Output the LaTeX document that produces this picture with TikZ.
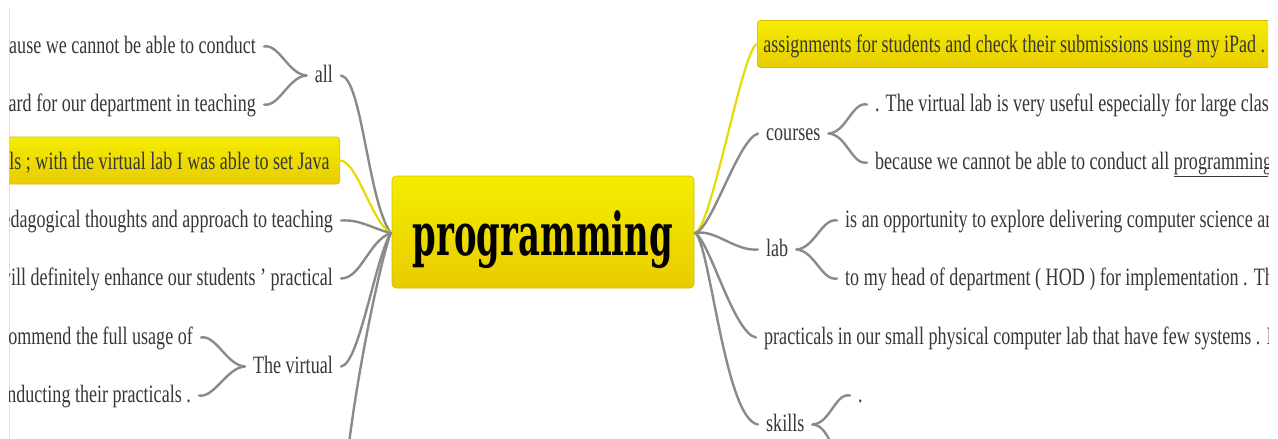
\documentclass[tikz,border=0pt]{standalone}
\usepackage{fontspec}
\usepackage{graphicx}
\setmainfont{Liberation Serif}
\newfontfamily\condfont[FakeStretch=0.722]{Liberation Serif}
\newfontfamily\rootfont{DejaVu Serif}
\usetikzlibrary{calc}
\definecolor{txtgray}{RGB}{55,55,55}
\definecolor{conngray}{RGB}{138,138,138}
\definecolor{connyellow}{RGB}{228,220,0}
\definecolor{boxtop}{RGB}{243,237,0}
\definecolor{boxbot}{RGB}{233,204,0}
\definecolor{boxedge}{RGB}{214,188,0}
\definecolor{frameline}{RGB}{226,226,226}
\begin{document}
\begin{tikzpicture}[x=1pt,y=-1pt,
  txt/.style={font=\condfont\fontsize{25}{29}\selectfont, text=txtgray,
    inner xsep=8pt, inner ysep=0pt, text height=17pt, text depth=4pt},
  hlbox/.style={txt, draw=boxedge, line width=0.6pt, top color=boxtop,
    bottom color=boxbot, rounded corners=3pt, minimum height=47pt,
    text height=20pt, text depth=3pt},
  rootbox/.style={draw=boxedge, line width=0.6pt, top color=boxtop,
    bottom color=boxbot, rounded corners=4pt, minimum width=302pt,
    minimum height=112pt, inner sep=0pt, text height=46pt, text depth=0pt},
  conn/.style={draw=conngray, line width=2.4pt, line cap=round},
  yconn/.style={draw=connyellow, line width=2.2pt, line cap=round},
]
\useasboundingbox (0,0) rectangle (1278,439);
\draw[draw=frameline, line width=0.8pt] (9,8) -- (9,439);
\begin{scope}
\clip (9,0) rectangle (1268,439);
% root
\node[rootbox] (root) at (543,232)
  {\resizebox*{260pt}{58pt}{\rootfont\bfseries programming}};
\coordinate (rootL) at ($(root.west)+(-1,1)$);
\coordinate (rootR) at ($(root.east)+(1,1)$);

% left side
\node[txt, anchor=base east] (l1) at (264,53) {because we cannot be able to conduct};
\node[txt, anchor=base east] (l2) at (264,111) {standard for our department in teaching};
\node[txt, anchor=base east] (all) at (341,82) {all};
\node[hlbox, anchor=east, inner xsep=10pt] (l3) at (340,160.5) {practicals ; with the virtual lab I was able to set Java};
\node[txt, anchor=base east] (l4) at (341,227) {pedagogical thoughts and approach to teaching};
\node[txt, anchor=base east] (l5) at (341,285) {will definitely enhance our students ’ practical};
\node[txt, anchor=base east] (l6) at (201,344) {recommend the full usage of};
\node[txt, anchor=base east] (tv) at (341,373) {The virtual};
\node[txt, anchor=base east] (l7) at (199,402) {conducting their practicals .};
\coordinate (lb) at (346,470);

% right side
\node[hlbox, anchor=west, inner xsep=6pt] (r1) at (757,44) {assignments for students and check their submissions using my iPad .};
\node[txt, anchor=base west] (courses) at (758,140) {courses};
\node[txt, anchor=base west] (r2) at (867,111) {. The virtual lab is very useful especially for large classes};
\node[txt, anchor=base west] (r3) at (867,169) {because we cannot be able to conduct all \underline{programming}};
\node[txt, anchor=base west] (lab) at (758,256) {lab};
\node[txt, anchor=base west] (r4) at (837,227) {is an opportunity to explore delivering computer science and};
\node[txt, anchor=base west] (r5) at (837,285) {to my head of department ( HOD ) for implementation . The};
\node[txt, anchor=base west] (r6) at (756,344) {practicals in our small physical computer lab that have few systems . I};
\node[txt, anchor=base west] (skills) at (758,431) {skills};
\node[txt, anchor=base west] (r7) at (850,402) {.};
\coordinate (r8) at (846,456);

% left connectors
\draw[conn] (all.east) .. controls ($(all.east)+(21,3)$) and ($(rootL)+(-23,-33)$) .. (rootL);
\draw[yconn] (l3.east) .. controls ($(l3.east)+(17,0)$) and ($(rootL)+(-19,-11)$) .. (rootL);
\draw[conn] (l4.east) .. controls ($(l4.east)+(20,-1)$) and ($(rootL)+(-20,-5)$) .. (rootL);
\draw[conn] (l5.east) .. controls ($(l5.east)+(20,0)$) and ($(rootL)+(-22,8)$) .. (rootL);
\draw[conn] (tv.east) .. controls ($(tv.east)+(18,-2)$) and ($(rootL)+(-16,28)$) .. (rootL);
\draw[conn] (rootL) .. controls ($(rootL)+(-10,27)$) and ($(lb)+(9,-90)$) .. (lb);

% left braces
\draw[conn] (all.west) .. controls ($(all.west)+(-18,-1)$) and ($(l1.east)+(15,-3)$) .. (l1.east);
\draw[conn] (all.west) .. controls ($(all.west)+(-18,1)$) and ($(l2.east)+(15,3)$) .. (l2.east);
\draw[conn] (tv.west) .. controls ($(tv.west)+(-18,-1)$) and ($(l6.east)+(15,-3)$) .. (l6.east);
\draw[conn] (tv.west) .. controls ($(tv.west)+(-18,1)$) and ($(l7.east)+(15,3)$) .. (l7.east);

% right connectors
\draw[yconn] (rootR) .. controls ($(rootR)+(17,-8)$) and ($(r1.west)+(-15,6)$) .. (r1.west);
\draw[conn] (rootR) .. controls ($(rootR)+(17,-5)$) and ($(courses.west)+(-20,6)$) .. (courses.west);
\draw[conn] (rootR) .. controls ($(rootR)+(20,-4)$) and ($(lab.west)+(-23,2)$) .. (lab.west);
\draw[conn] (rootR) .. controls ($(rootR)+(15,10)$) and ($(r6.west)+(-22,-4)$) .. (r6.west);
\draw[conn] (rootR) .. controls ($(rootR)+(15,12)$) and ($(skills.west)+(-33,-5)$) .. (skills.west);

% right braces
\draw[conn] (courses.east) .. controls ($(courses.east)+(18,-1)$) and ($(r2.west)+(-15,-3)$) .. (r2.west);
\draw[conn] (courses.east) .. controls ($(courses.east)+(18,1)$) and ($(r3.west)+(-15,3)$) .. (r3.west);
\draw[conn] (lab.east) .. controls ($(lab.east)+(18,-1)$) and ($(r4.west)+(-15,-3)$) .. (r4.west);
\draw[conn] (lab.east) .. controls ($(lab.east)+(18,1)$) and ($(r5.west)+(-15,3)$) .. (r5.west);
\draw[conn] (skills.east) .. controls ($(skills.east)+(18,-1)$) and ($(r7.west)+(-15,-3)$) .. (r7.west);
\draw[conn] (skills.east) .. controls ($(skills.east)+(18,1)$) and ($(r8)+(-15,3)$) .. (r8);
\end{scope}
\end{tikzpicture}
\end{document}
